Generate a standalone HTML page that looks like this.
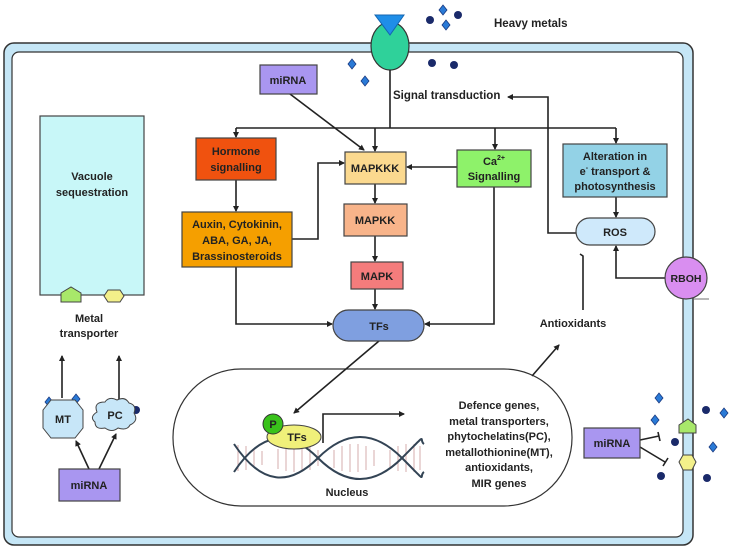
<!DOCTYPE html>
<html><head><meta charset="utf-8"><style>
html,body{margin:0;padding:0;background:#fff}
svg text{font-family:"Liberation Sans",sans-serif;font-weight:bold;fill:#222}
</style></head><body>
<svg width="735" height="549" viewBox="0 0 735 549" xmlns="http://www.w3.org/2000/svg">
<defs>
<marker id="a" markerWidth="6" markerHeight="6" refX="5" refY="3" orient="auto" markerUnits="userSpaceOnUse"><path d="M0,0 L6,3 L0,6 z" fill="#222"/></marker>
</defs>
<!-- cell membrane -->
<rect x="4" y="43" width="689" height="502" rx="10" fill="#c5e6f6" stroke="#333" stroke-width="1.5"/>
<rect x="12" y="52" width="671" height="485" rx="7" fill="#fff" stroke="#333" stroke-width="1.2"/>
<rect x="173" y="369" width="399" height="137" rx="68" fill="#fff" stroke="#333" stroke-width="1.2"/>
<!-- receptor -->
<ellipse cx="390" cy="46" rx="19" ry="24" fill="#2fd19a" stroke="#333" stroke-width="1.2"/>
<path d="M375,15 L404,15 L390,35 z" fill="#1f8ee8" stroke="#1466b0" stroke-width="1"/>
<text x="494" y="27" font-size="11.5">Heavy metals</text>
<g fill="#1a2a6a">
<circle cx="430" cy="20" r="4"/><circle cx="458" cy="15" r="4"/><circle cx="432" cy="63" r="4"/><circle cx="454" cy="65" r="4"/>
<circle cx="706" cy="410" r="4"/><circle cx="675" cy="442" r="4"/><circle cx="661" cy="476" r="4"/><circle cx="707" cy="478" r="4"/><circle cx="136" cy="410" r="4"/>
</g>
<g fill="#2a7ad6" stroke="#1a3a80" stroke-width="0.8">
<path d="M443,5 l4,5 l-4,5 l-4,-5z"/><path d="M446,20 l4,5 l-4,5 l-4,-5z"/><path d="M352,59 l4,5 l-4,5 l-4,-5z"/><path d="M365,76 l4,5 l-4,5 l-4,-5z"/>
<path d="M659,393 l4,5 l-4,5 l-4,-5z"/><path d="M655,415 l4,5 l-4,5 l-4,-5z"/><path d="M724,408 l4,5 l-4,5 l-4,-5z"/><path d="M713,442 l4,5 l-4,5 l-4,-5z"/>
<path d="M49,397 l4,5 l-4,5 l-4,-5z"/><path d="M76,394 l4,5 l-4,5 l-4,-5z"/>
</g>
<!-- lines -->
<g stroke="#222" stroke-width="1.6" fill="none">
<line x1="390" y1="70" x2="390" y2="128"/>
<line x1="236" y1="128" x2="616" y2="128"/>
<line x1="236" y1="128" x2="236" y2="137" marker-end="url(#a)"/>
<line x1="375" y1="128" x2="375" y2="151" marker-end="url(#a)"/>
<line x1="495" y1="128" x2="495" y2="149" marker-end="url(#a)"/>
<line x1="616" y1="128" x2="616" y2="143" marker-end="url(#a)"/>
<line x1="290" y1="94" x2="364" y2="150" marker-end="url(#a)"/>
<line x1="236" y1="180" x2="236" y2="211" marker-end="url(#a)"/>
<polyline points="292,239 318,239 318,163 344,163" marker-end="url(#a)"/>
<line x1="457" y1="167" x2="407" y2="167" marker-end="url(#a)"/>
<line x1="375" y1="184" x2="375" y2="203" marker-end="url(#a)"/>
<line x1="375" y1="236" x2="375" y2="261" marker-end="url(#a)"/>
<line x1="375" y1="289" x2="375" y2="309" marker-end="url(#a)"/>
<polyline points="236,267 236,324 332,324" marker-end="url(#a)"/>
<polyline points="494,187 494,324 425,324" marker-end="url(#a)"/>
<line x1="616" y1="197" x2="616" y2="217" marker-end="url(#a)"/>
<polyline points="576,233 548,233 548,97 508,97" marker-end="url(#a)"/>
<polyline points="665,278 616,278 616,246" marker-end="url(#a)"/>
<polyline points="583,310 583,256 580,254"/>
<line x1="379" y1="341" x2="294" y2="413" marker-end="url(#a)"/>
<line x1="532" y1="376" x2="559" y2="345" marker-end="url(#a)"/>
<polyline points="323,443 323,414 404,414" marker-end="url(#a)"/>
<line x1="62" y1="398" x2="62" y2="356" marker-end="url(#a)"/>
<line x1="119" y1="402" x2="119" y2="356" marker-end="url(#a)"/>
<line x1="89" y1="469" x2="76" y2="441" marker-end="url(#a)"/>
<line x1="99" y1="469" x2="116" y2="434" marker-end="url(#a)"/>
<line x1="640" y1="440" x2="659" y2="436"/><line x1="658" y1="432" x2="660" y2="441"/>
<line x1="640" y1="447" x2="665" y2="462"/><line x1="668" y1="458" x2="663" y2="466"/>
</g>
<line x1="694" y1="299" x2="709" y2="299" stroke="#888" stroke-width="1.2"/>
<text x="393" y="99" font-size="11.5">Signal transduction</text>
<!-- boxes -->
<g stroke="#444" stroke-width="1.2">
<rect x="260" y="65" width="57" height="29" fill="#a996f0"/>
<rect x="196" y="138" width="80" height="42" fill="#f0520f"/>
<rect x="345" y="152" width="61" height="32" fill="#fbd98f"/>
<rect x="457" y="150" width="74" height="37" fill="#8ef26a"/>
<rect x="563" y="144" width="104" height="53" fill="#93d2e6"/>
<rect x="182" y="212" width="110" height="55" fill="#f59f00"/>
<rect x="344" y="204" width="63" height="32" fill="#f8b48a"/>
<rect x="351" y="262" width="52" height="27" fill="#f47c7c"/>
<rect x="576" y="218" width="79" height="27" rx="13.5" fill="#cfe9fb"/>
<rect x="333" y="310" width="91" height="31" rx="15.5" fill="#7f9fe0"/>
<rect x="40" y="116" width="104" height="179" fill="#c8f7f8"/>
<rect x="59" y="469" width="61" height="32" fill="#a996f0"/>
<rect x="584" y="428" width="56" height="30" fill="#a996f0"/>
<circle cx="686" cy="278" r="21" fill="#d98ef0"/>
</g>
<g font-size="11" text-anchor="middle">
<text x="288" y="84">miRNA</text>
<text x="236" y="155">Hormone</text><text x="236" y="171">signalling</text>
<text x="375" y="172">MAPKKK</text>
<text x="494" y="165">Ca<tspan font-size="7" dy="-5">2+</tspan></text><text x="494" y="180">Signalling</text>
<text x="615" y="160">Alteration in</text><text x="615" y="175">e<tspan font-size="7" dy="-5">-</tspan><tspan dy="5"> transport &amp;</tspan></text><text x="615" y="190">photosynthesis</text>
<text x="237" y="228">Auxin, Cytokinin,</text><text x="237" y="244">ABA, GA, JA,</text><text x="237" y="260">Brassinosteroids</text>
<text x="375" y="224">MAPKK</text>
<text x="377" y="280">MAPK</text>
<text x="615" y="236">ROS</text>
<text x="379" y="330">TFs</text>
<text x="686" y="282" font-size="10.5">RBOH</text>
<text x="92" y="180">Vacuole</text><text x="92" y="196">sequestration</text>
<text x="89" y="322">Metal</text><text x="89" y="337">transporter</text>
<text x="89" y="489">miRNA</text>
<text x="612" y="447">miRNA</text>
<text x="573" y="327">Antioxidants</text>
<text x="347" y="496">Nucleus</text>
<text x="499" y="409">Defence genes,</text>
<text x="499" y="425">metal transporters,</text>
<text x="499" y="440">phytochelatins(PC),</text>
<text x="499" y="456">metallothionine(MT),</text>
<text x="499" y="471">antioxidants,</text>
<text x="499" y="487">MIR genes</text>
</g>
<!-- transporters -->
<path d="M61,302 L61,293 L71,287 L81,293 L81,302z" fill="#a8e86a" stroke="#444"/>
<path d="M104,296 L108,290 L120,290 L124,296 L120,302 L108,302z" fill="#f3f08a" stroke="#444"/>
<path d="M679,433 L679,425 L688,419 L696,425 L696,433z" fill="#a8e86a" stroke="#444"/>
<path d="M679,462 L683,455 L692,455 L696,462 L692,470 L683,470z" fill="#f3f08a" stroke="#444"/>
<!-- MT & PC -->
<path d="M51,400 L75,400 L83,410 L83,428 L75,438 L51,438 L43,428 L43,410z" fill="#c7e6f8" stroke="#444"/>
<text x="63" y="423" font-size="11" text-anchor="middle">MT</text>
<path d="M97,412 q-4,-10 8,-10 q4,-6 12,-2 q8,-4 12,3 q8,2 5,10 q5,8 -4,12 q-3,6 -12,3 q-6,5 -13,0 q-10,2 -10,-6 q-6,-5 2,-10z" fill="#c7e6f8" stroke="#444"/>
<text x="115" y="419" font-size="11" text-anchor="middle">PC</text>
<!-- DNA -->
<g stroke-width="0.8">
<g stroke="#c99">
<path d="M238,445 v26 M246,446 v24 M254,448 v20 M262,451 v14 M278,449 v20 M286,446 v25 M294,444 v28 M302,444 v28 M310,446 v24 M318,450 v16 M334,450 v18 M342,446 v25 M350,444 v28 M358,444 v28 M366,446 v24 M374,450 v16 M390,450 v18 M398,446 v25 M406,444 v28 M414,444 v28 M420,446 v24"/>
</g>
<path d="M234,472 C262,430 290,430 318,458 S374,486 402,458 S418,440 424,444" stroke="#345" stroke-width="2" fill="none"/>
<path d="M234,444 C262,486 290,486 318,458 S374,430 402,458 S418,476 424,472" stroke="#345" stroke-width="2" fill="none"/>
</g>
<ellipse cx="294" cy="437" rx="27" ry="12" fill="#f0f07a" stroke="#444"/>
<text x="297" y="441" font-size="11" text-anchor="middle">TFs</text>
<circle cx="273" cy="424" r="10" fill="#39c21b" stroke="#333"/>
<text x="273" y="428" font-size="11" text-anchor="middle">P</text>
</svg>
</body></html>
